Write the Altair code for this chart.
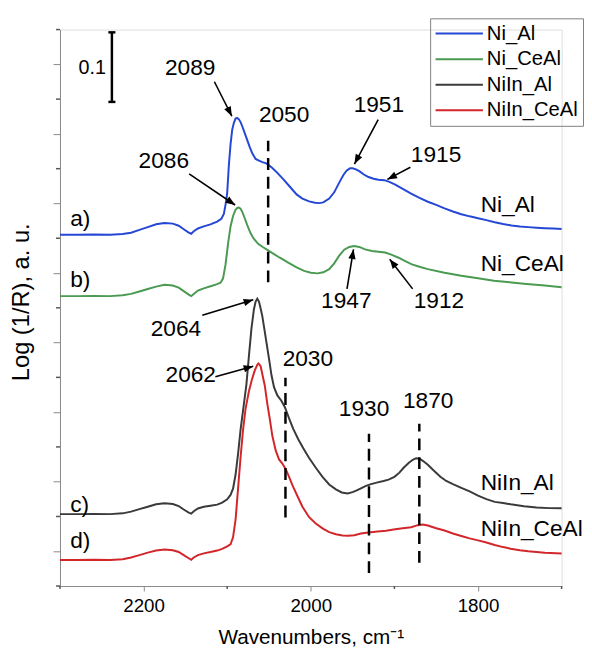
import math
import altair as alt
import pandas as pd

# ---------------- layout constants ----------------
W = 508.6
H = 564.2
X_MIN, X_MAX = 1700, 2300
Y_MIN, Y_MAX = 0.0, 0.8
FONT = "Liberation Sans"

# ---------------- data ----------------
series_names = ["Ni_Al", "Ni_CeAl", "NiIn_Al", "NiIn_CeAl"]
series_colors = ["#2547d6", "#4a9a52", "#3a3a3a", "#d3262b"]

ni_al_wn = [2300, 2280, 2260, 2240, 2225, 2215, 2205, 2195, 2185, 2175, 2165, 2158, 2152, 2146, 2143,
            2140, 2135, 2128, 2120, 2112, 2107, 2104, 2102, 2100, 2098, 2096, 2094, 2092, 2090, 2088,
            2086, 2084, 2082, 2079, 2076, 2073, 2070, 2066, 2062, 2058, 2054, 2050, 2046, 2040, 2033,
            2025, 2017, 2010, 2002, 1995, 1990, 1985, 1978, 1972, 1966, 1961, 1957, 1953, 1950, 1946,
            1942, 1937, 1931, 1925, 1919, 1912, 1906, 1899, 1890, 1880, 1870, 1860, 1850, 1840, 1830,
            1820, 1810, 1800, 1790, 1780, 1770, 1760, 1750, 1740, 1730, 1720, 1710, 1700]
ni_al_ab = [0.505, 0.505, 0.5055, 0.505, 0.506, 0.508, 0.512, 0.516, 0.520, 0.522, 0.521, 0.518, 0.513, 0.508, 0.5065,
            0.510, 0.514, 0.517, 0.520, 0.524, 0.528, 0.535, 0.548, 0.565, 0.605, 0.635, 0.656, 0.666, 0.672, 0.673,
            0.671, 0.667, 0.661, 0.651, 0.641, 0.631, 0.622, 0.614, 0.6115, 0.6095, 0.608, 0.605, 0.601, 0.594, 0.585,
            0.574, 0.563, 0.557, 0.553, 0.551, 0.5505, 0.5515, 0.557, 0.566, 0.580, 0.591, 0.5975, 0.6005, 0.6005, 0.599,
            0.5965, 0.592, 0.588, 0.5855, 0.584, 0.5835, 0.581, 0.577, 0.571, 0.564, 0.558, 0.5525, 0.548, 0.543, 0.5385,
            0.5345, 0.5315, 0.5288, 0.526, 0.523, 0.5205, 0.5184, 0.517, 0.516, 0.5152, 0.5145, 0.514, 0.5132]

ni_ceal_wn = [2300, 2280, 2260, 2240, 2225, 2215, 2205, 2195, 2185, 2175, 2165, 2158, 2152, 2146, 2143,
              2140, 2135, 2128, 2120, 2112, 2108, 2105, 2102, 2099, 2096, 2093, 2090, 2088, 2086, 2084,
              2082, 2080, 2076, 2072, 2068, 2063, 2057, 2051, 2045, 2037, 2027, 2017, 2008, 2000, 1992,
              1985, 1978, 1972, 1966, 1960, 1954, 1948, 1942, 1935, 1927, 1919, 1911, 1903, 1895, 1887,
              1879, 1870, 1860, 1840, 1820, 1800, 1781, 1760, 1742, 1720, 1700]
ni_ceal_ab = [0.4168, 0.4168, 0.417, 0.4168, 0.418, 0.420, 0.4235, 0.427, 0.4305, 0.433, 0.432, 0.429, 0.424, 0.419, 0.4168,
              0.420, 0.4248, 0.428, 0.431, 0.434, 0.436, 0.442, 0.462, 0.492, 0.517, 0.532, 0.541, 0.5435, 0.544, 0.5425,
              0.538, 0.532, 0.519, 0.507, 0.499, 0.492, 0.487, 0.4825, 0.478, 0.472, 0.465, 0.458, 0.453, 0.4505, 0.4495,
              0.451, 0.4556, 0.464, 0.475, 0.4835, 0.4875, 0.4888, 0.4875, 0.484, 0.4818, 0.4806, 0.4795, 0.476, 0.472, 0.467,
              0.4625, 0.459, 0.4556, 0.4505, 0.4461, 0.4425, 0.439, 0.4365, 0.4343, 0.432, 0.4295]

niin_al_wn = [2300, 2280, 2260, 2240, 2225, 2215, 2205, 2195, 2185, 2175, 2165, 2158, 2152, 2146, 2143,
              2140, 2135, 2128, 2120, 2112, 2106, 2100, 2096, 2093, 2090, 2087, 2084, 2080, 2077, 2074,
              2071, 2068, 2066, 2064, 2062, 2060, 2058, 2056, 2053, 2050, 2047, 2044, 2040, 2035, 2031,
              2026, 2021, 2015, 2009, 2002, 1994, 1986, 1978, 1970, 1963, 1956, 1950, 1945, 1940, 1934,
              1928, 1920, 1913, 1907, 1900, 1894, 1889, 1883, 1878, 1874, 1870, 1866, 1860, 1853, 1845,
              1838, 1830, 1820, 1810, 1800, 1790, 1780, 1770, 1761, 1745, 1730, 1715, 1700]
niin_al_ab = [0.1034, 0.1034, 0.1036, 0.1034, 0.1045, 0.107, 0.1105, 0.114, 0.1175, 0.119, 0.118, 0.115, 0.110, 0.1055, 0.104,
              0.1075, 0.1115, 0.114, 0.1155, 0.117, 0.120, 0.1247, 0.131, 0.140, 0.160, 0.190, 0.225, 0.262, 0.290, 0.331,
              0.370, 0.398, 0.409, 0.413, 0.409, 0.399, 0.388, 0.373, 0.350, 0.327, 0.303, 0.286, 0.274, 0.266, 0.257,
              0.241, 0.226, 0.211, 0.198, 0.184, 0.170, 0.157, 0.146, 0.139, 0.1345, 0.1332, 0.135, 0.1375, 0.1405, 0.144,
              0.1465, 0.149, 0.151, 0.153, 0.157, 0.163, 0.170, 0.177, 0.1815, 0.1838, 0.1832, 0.180, 0.1743, 0.166, 0.157,
              0.151, 0.1465, 0.1412, 0.136, 0.130, 0.125, 0.121, 0.1195, 0.1176, 0.1148, 0.1129, 0.112, 0.1119]

niin_ceal_wn = [2300, 2280, 2260, 2240, 2225, 2215, 2205, 2195, 2185, 2175, 2165, 2158, 2152, 2146, 2143,
                2140, 2135, 2128, 2120, 2112, 2106, 2100, 2096, 2093, 2090, 2087, 2084, 2081, 2078, 2074,
                2070.5, 2067, 2064, 2062.5, 2060, 2057.5, 2055, 2052, 2049, 2046, 2042, 2038, 2034, 2030, 2026,
                2022, 2017, 2010, 2002, 1994, 1986, 1978, 1970, 1962, 1955, 1948, 1940, 1931, 1920, 1910,
                1899, 1890, 1880, 1872, 1866, 1860, 1850, 1840, 1830, 1820, 1810, 1800, 1790, 1780, 1770,
                1761, 1750, 1740, 1720, 1700]
niin_ceal_ab = [0.0375, 0.0375, 0.0378, 0.0375, 0.0385, 0.041, 0.0445, 0.048, 0.051, 0.0525, 0.0515, 0.049, 0.0445, 0.040, 0.0378,
                0.041, 0.0445, 0.047, 0.049, 0.051, 0.0535, 0.057, 0.060, 0.070, 0.095, 0.140, 0.185, 0.225, 0.255, 0.280,
                0.2965, 0.310, 0.318, 0.320, 0.316, 0.302, 0.288, 0.262, 0.240, 0.216, 0.195, 0.182, 0.176, 0.168, 0.157,
                0.145, 0.132, 0.114, 0.099, 0.090, 0.083, 0.0774, 0.0745, 0.0728, 0.0722, 0.073, 0.0755, 0.077, 0.0785, 0.0795,
                0.0815, 0.083, 0.0845, 0.0875, 0.0885, 0.087, 0.083, 0.0798, 0.0755, 0.072, 0.0685, 0.0657, 0.0625, 0.059, 0.056,
                0.0537, 0.0515, 0.050, 0.048, 0.0467]

# axis ticks
x_major = [2200, 2000, 1800]
x_minor = [2300, 2100, 1900, 1700]
y_major = [0.05, 0.15, 0.25, 0.35, 0.45, 0.55, 0.65, 0.75]
y_minor = [0.0, 0.1, 0.2, 0.3, 0.4, 0.5, 0.6, 0.7, 0.8]

# annotations (in data units)
peak_labels = ["2089", "2050", "1951", "1915", "2086", "2064", "2062", "1947", "1912", "2030", "1930", "1870"]
peak_label_wn = [2144.3, 2031.9, 1918.6, 1850.2, 2175.8, 2161.3, 2143.6, 1957.5, 1846.7, 2003.5, 1936.3, 1859.6]
peak_label_ab = [0.744, 0.677, 0.691, 0.6195, 0.6116, 0.3695, 0.303, 0.409, 0.409, 0.3256, 0.2547, 0.2664]

arrow_start_wn = [2115.3, 2145.5, 1919.4, 1880.9, 2129.8, 2114.1, 1956.7, 1878.2]
arrow_start_ab = [0.725, 0.5926, 0.6706, 0.602, 0.3894, 0.301, 0.4272, 0.4272]
arrow_tip_wn = [2094.4, 2090.5, 1947.8, 1908.4, 2068.8, 2068.8, 1948.9, 1905.6]
arrow_tip_ab = [0.6754, 0.5478, 0.6067, 0.5846, 0.4116, 0.316, 0.484, 0.4698]

dash_wn = [2051.0, 2030.3, 1930.4, 1870.2]
dash_top = [0.640, 0.2996, 0.219, 0.2334]
dash_bottom = [0.4366, 0.0987, 0.0186, 0.0335]

scalebar_wn = [2237.9]
scalebar_lo = [0.696]
scalebar_hi = [0.796]
scalebar_cap_wn = [2242.1, 2233.7]
scalebar_label = ["0.1"]
scalebar_label_wn = [2261.5]
scalebar_label_ab = [0.745]

row_labels = ["a)", "b)", "c)", "d)"]
row_label_wn = [2287.8, 2287.8, 2287.8, 2287.8]
row_label_ab = [0.527, 0.4405, 0.117, 0.064]

end_label_wn = [1796.8, 1796.8, 1796.8, 1796.8]
end_label_ab = [0.547, 0.4627, 0.1483, 0.0821]

# ---------------- tables ----------------
frames = []
for name, wn, ab in zip(series_names,
                        [ni_al_wn, ni_ceal_wn, niin_al_wn, niin_ceal_wn],
                        [ni_al_ab, ni_ceal_ab, niin_al_ab, niin_ceal_ab]):
    frames.append(pd.DataFrame({"series": name, "wn": wn, "ab": ab}))
lines_df = pd.concat(frames, ignore_index=True)

px_per_wn = W / (X_MAX - X_MIN)
px_per_ab = H / (Y_MAX - Y_MIN)
angles = []
for sw, sa, tw, ta in zip(arrow_start_wn, arrow_start_ab, arrow_tip_wn, arrow_tip_ab):
    dx = -(tw - sw) * px_per_wn
    dy = -(ta - sa) * px_per_ab
    angles.append(math.degrees(math.atan2(dx, -dy)) % 360)
arrows_df = pd.DataFrame({"wn": arrow_start_wn, "ab": arrow_start_ab,
                          "wn2": arrow_tip_wn, "ab2": arrow_tip_ab})
heads_df = pd.DataFrame({"wn": arrow_tip_wn, "ab": arrow_tip_ab, "ang": angles})
peaks_df = pd.DataFrame({"txt": peak_labels, "wn": peak_label_wn, "ab": peak_label_ab})
dash_df = pd.DataFrame({"wn": dash_wn, "ab": dash_bottom, "ab2": dash_top})
bar_df = pd.DataFrame({"wn": scalebar_wn, "ab": scalebar_lo, "ab2": scalebar_hi})
caps_df = pd.DataFrame({"wn": [scalebar_cap_wn[0]] * 2, "wn2": [scalebar_cap_wn[1]] * 2,
                        "ab": [scalebar_lo[0], scalebar_hi[0]]})
bar_label_df = pd.DataFrame({"txt": scalebar_label, "wn": scalebar_label_wn, "ab": scalebar_label_ab})
row_df = pd.DataFrame({"txt": row_labels, "wn": row_label_wn, "ab": row_label_ab})
end_df = pd.DataFrame({"txt": series_names, "wn": end_label_wn, "ab": end_label_ab})
yminor_df = pd.DataFrame({"ab": y_minor})
xminor_df = pd.DataFrame({"wn": x_minor})

# ---------------- encodings ----------------
xs = alt.Scale(domain=[X_MIN, X_MAX], reverse=True, nice=False, zero=False)
ys = alt.Scale(domain=[Y_MIN, Y_MAX], nice=False, zero=False)
x_axis = alt.Axis(values=x_major, format="d", tickSize=5, labelFontSize=19, labelPadding=6,
                  title="Wavenumbers, cm⁻¹", titleFontSize=21, titleFontWeight="normal",
                  titleY=58, titleBaseline="alphabetic", grid=False)
y_axis = alt.Axis(values=y_major, tickSize=7, labels=False, grid=False,
                  title="Log (1/R), a. u.", titleFontSize=24, titleFontWeight="normal",
                  titleX=-38.7, titleY=276, titleBaseline="middle", titleAngle=270)
X = alt.X("wn:Q", scale=xs, axis=x_axis)
Y = alt.Y("ab:Q", scale=ys, axis=y_axis)

lines = alt.Chart(lines_df).mark_line(strokeWidth=2).encode(
    x=X, y=Y,
    color=alt.Color("series:N",
                    scale=alt.Scale(domain=series_names, range=series_colors),
                    legend=alt.Legend(title=None, orient="none", legendX=375.3, legendY=-11.4,
                                      symbolType="stroke", symbolSize=2304, symbolStrokeWidth=2,
                                      labelFontSize=20.5, labelFont=FONT, labelColor="black",
                                      labelOffset=3, clipHeight=22, rowPadding=3.9, padding=4.5,
                                      strokeColor="#7f7f7f")),
    detail="series:N",
)

yminor = alt.Chart(yminor_df).mark_rule(color="#555555", strokeWidth=1.5).encode(
    y=Y, x=alt.value(0), x2=alt.value(-4))
xminor = alt.Chart(xminor_df).mark_rule(color="#555555", strokeWidth=1.5).encode(
    x=X, y=alt.value(H), y2=alt.value(H + 3))

dashes = alt.Chart(dash_df).mark_rule(color="black", strokeWidth=2.5, strokeDash=[12, 7]).encode(
    x=X, y=Y, y2="ab2:Q")

bar = alt.Chart(bar_df).mark_rule(color="black", strokeWidth=2.5).encode(x=X, y=Y, y2="ab2:Q")
caps = alt.Chart(caps_df).mark_rule(color="black", strokeWidth=2.5).encode(x=X, x2="wn2:Q", y=Y)
bar_text = alt.Chart(bar_label_df).mark_text(fontSize=20, font=FONT, color="black",
                                             align="center", baseline="middle").encode(
    x=X, y=Y, text="txt:N")

arrow_lines = alt.Chart(arrows_df).mark_rule(color="black", strokeWidth=1.6).encode(
    x=X, y=Y, x2="wn2:Q", y2="ab2:Q")
arrow_heads = alt.Chart(heads_df).mark_point(
    shape="M0,0L-0.38,1L0.38,1Z", filled=True, color="black", opacity=1, size=380, strokeWidth=0
).encode(x=X, y=Y, angle=alt.Angle("ang:Q", scale=None))

peak_text = alt.Chart(peaks_df).mark_text(fontSize=23, font=FONT, color="black",
                                          align="center", baseline="middle").encode(
    x=X, y=Y, text="txt:N")
row_text = alt.Chart(row_df).mark_text(fontSize=23, font=FONT, color="black",
                                       align="left", baseline="middle").encode(
    x=X, y=Y, text="txt:N")
end_text = alt.Chart(end_df).mark_text(fontSize=23, font=FONT, color="black",
                                       align="left", baseline="middle").encode(
    x=X, y=Y, text="txt:N")

chart = alt.layer(
    lines, yminor, xminor, dashes, bar, caps, bar_text,
    arrow_lines, arrow_heads, peak_text, row_text, end_text
).properties(
    width=W, height=H,
    autosize=alt.AutoSizeParams(type="none"),
    padding={"left": 52.7, "top": 17.4, "right": 22.7, "bottom": 62},
).configure_view(stroke=None).configure_axis(
    domainColor="#555555", domainWidth=1.5, tickColor="#555555", tickWidth=1.5,
    labelFont=FONT, titleFont=FONT, labelColor="black", titleColor="black",
).configure(font=FONT)

chart.save("out.html", embed_options={"renderer": "svg", "actions": False})
